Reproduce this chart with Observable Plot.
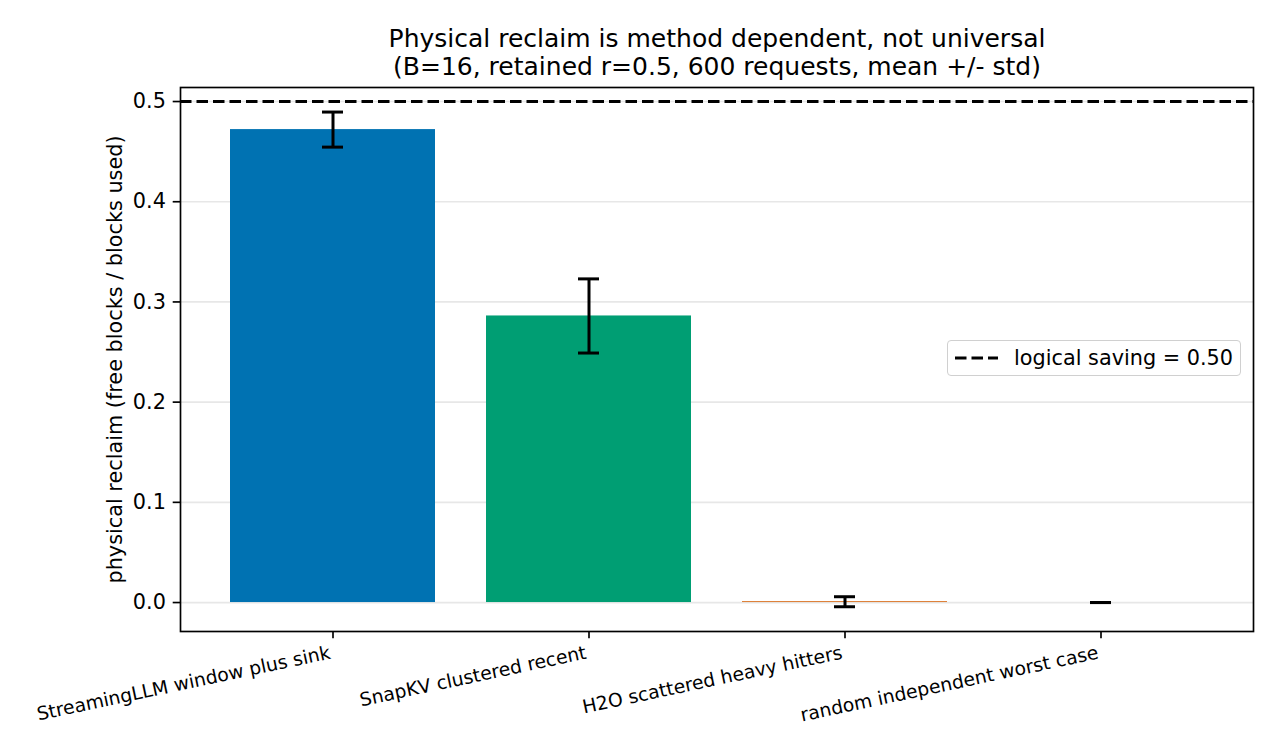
<!DOCTYPE html>
<html>
<head>
<meta charset="utf-8">
<script src="https://cdn.jsdelivr.net/npm/d3@7"></script>
<script src="https://cdn.jsdelivr.net/npm/@observablehq/plot@0.6"></script>
<style>
  body { margin: 0; background: white; font-family: "DejaVu Sans", sans-serif; }
  #wrap { position: relative; width: 1275px; height: 750px; }
  #legend {
    position: absolute; left: 947px; top: 340px; width: 292px; height: 34px;
    border: 1.5px solid #d0d0d0; border-radius: 4px; background: rgba(255,255,255,0.8);
    display: flex; align-items: center; font-size: 20.8px; color: #000;
  }
  #legend svg { margin-left: 7px; margin-right: 16px; }
</style>
</head>
<body>
<div id="wrap"></div>
<script>
const categories = [
  "StreamingLLM window plus sink",
  "SnapKV clustered recent",
  "H2O scattered heavy hitters",
  "random independent worst case"
];
const means = [0.472, 0.286, 0.0008, 0.0];
const stds = [0.0175, 0.037, 0.005, 0.0];
const colors = ["#0072B2", "#009E73", "#D55E00", "#CC79A7"];
const yTicks = [0.0, 0.1, 0.2, 0.3, 0.4, 0.5];
const logicalSaving = 0.5;
const titleLines = [
  "Physical reclaim is method dependent, not universal",
  "(B=16, retained r=0.5, 600 requests, mean +/- std)"
];
const yLabel = "physical reclaim (free blocks / blocks used)";
const legendLabel = "logical saving = 0.50";

const data = categories.map((c, i) => ({cat: c, mean: means[i], std: stds[i]}));

const chart = Plot.plot({
  width: 1275,
  height: 750,
  marginLeft: 180,
  marginRight: 22,
  marginTop: 87,
  marginBottom: 119,
  style: {fontFamily: "DejaVu Sans", background: "white", color: "black"},
  x: {domain: categories, paddingInner: 0.2, paddingOuter: 0.192, label: null},
  y: {domain: [-0.0289, 0.514], label: null},
  color: {domain: categories, range: colors},
  marks: [
    Plot.gridY(yTicks, {stroke: "#b0b0b0", strokeOpacity: 0.3, strokeWidth: 1.67}),
    Plot.barY(data, {x: "cat", y: "mean", fill: "cat"}),
    Plot.ruleY([logicalSaving], {stroke: "black", strokeWidth: 3.1, strokeDasharray: "11.5,5"}),
    Plot.ruleX(data, {x: "cat", y1: d => d.mean - d.std, y2: d => d.mean + d.std, stroke: "black", strokeWidth: 3}),
    Plot.tickY(data, {x: "cat", y: d => d.mean - d.std, insetLeft: 92, insetRight: 92, stroke: "black", strokeWidth: 3}),
    Plot.tickY(data, {x: "cat", y: d => d.mean + d.std, insetLeft: 92, insetRight: 92, stroke: "black", strokeWidth: 3}),
    Plot.frame({stroke: "black", strokeWidth: 1.67}),
    Plot.axisY(yTicks, {tickFormat: d3.format(".1f"), tickSize: 7.3, tickPadding: 7.3, fontSize: 20.8, strokeWidth: 1.67, label: null}),
    Plot.axisX({tickSize: 7.3, strokeWidth: 1.67, tickFormat: () => "", label: null}),
    Plot.axisX({tickRotate: -12, tickSize: 0, tickPadding: 15, fontSize: 18.75, label: null, dx: -3, dy: 6}),
    Plot.text([titleLines[0]], {frameAnchor: "top", dy: -58, fontSize: 25, fill: "black"}),
    Plot.text([titleLines[1]], {frameAnchor: "top", dy: -30, fontSize: 25, fill: "black"}),
    Plot.text([yLabel], {frameAnchor: "left", dx: -65, rotate: -90, textAnchor: "middle", lineAnchor: "middle", fontSize: 20.8, fill: "black"})
  ]
});

const wrap = document.getElementById("wrap");
wrap.appendChild(chart);

const legend = document.createElement("div");
legend.id = "legend";
legend.innerHTML = `<svg width="43" height="10"><line x1="0" y1="5" x2="43" y2="5" stroke="black" stroke-width="3.1" stroke-dasharray="11.5,5"/></svg><span>${legendLabel}</span>`;
wrap.appendChild(legend);
</script>
</body>
</html>
